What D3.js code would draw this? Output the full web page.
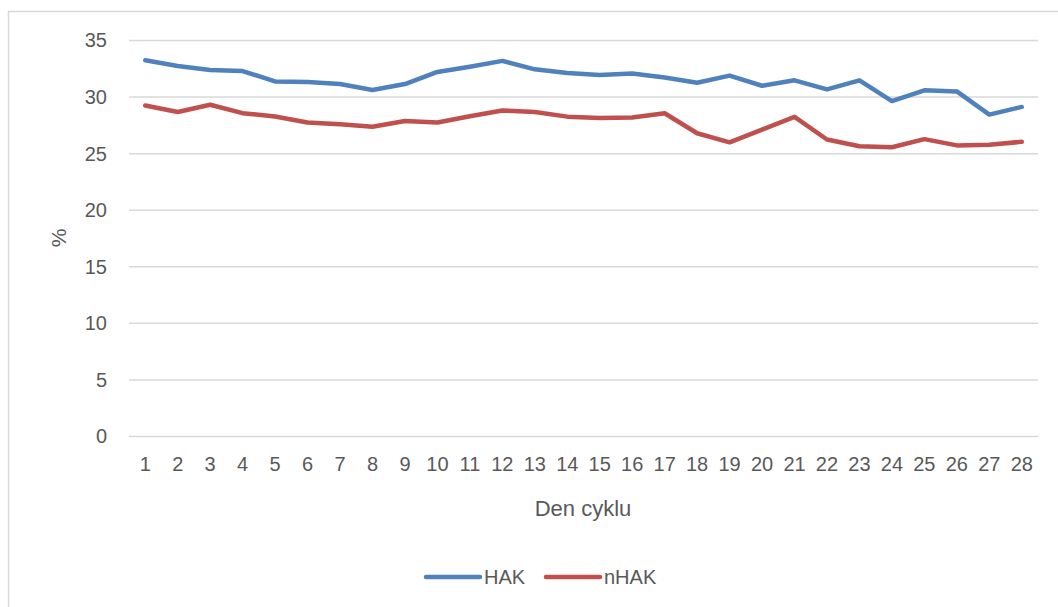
<!DOCTYPE html>
<html>
<head>
<meta charset="utf-8">
<script src="https://cdn.jsdelivr.net/npm/d3@7"></script>
<style>
  html, body { margin: 0; padding: 0; background: #fff; }
  svg { display: block; }
  text { font-family: "Liberation Sans", "DejaVu Sans", sans-serif; fill: #595959; }
</style>
</head>
<body>
<svg id="chart" width="1058" height="607"></svg>
<script>
// Day of the cycle
const days = d3.range(1, 29).map(String);
// Share (%) per day for each group
const hak  = [33.25, 32.75, 32.4, 32.3, 31.38, 31.33, 31.15, 30.62, 31.15, 32.22, 32.68, 33.2,
              32.45, 32.13, 31.95, 32.08, 31.73, 31.27, 31.9, 31.0, 31.48, 30.68, 31.48, 29.65,
              30.6, 30.5, 28.45, 29.13];
const nhak = [29.25, 28.68, 29.32, 28.58, 28.28, 27.75, 27.6, 27.38, 27.88, 27.75, 28.3, 28.82,
              28.68, 28.27, 28.15, 28.2, 28.57, 26.8, 26.0, 27.13, 28.25, 26.25, 25.65, 25.57,
              26.28, 25.73, 25.78, 26.05];
const yTicks = [0, 5, 10, 15, 20, 25, 30, 35];
const seriesNames = ["HAK", "nHAK"];
const seriesColors = ["#4F81BD", "#C0504D"];

const svg = d3.select("#chart");

// chart frame
svg.append("rect")
  .attr("x", 8.5).attr("y", 11.5)
  .attr("width", 1100).attr("height", 700)
  .attr("fill", "none").attr("stroke", "#D9D9D9").attr("stroke-width", 1.5);

const x = d3.scaleBand().domain(days).range([129, 1038]);
const y = d3.scaleLinear().domain([0, 35]).range([436.5, 40.5]);

// horizontal gridlines
svg.append("g").selectAll("line").data(yTicks).join("line")
  .attr("x1", 129).attr("x2", 1038)
  .attr("y1", d => y(d)).attr("y2", d => y(d))
  .attr("stroke", "#D9D9D9").attr("stroke-width", 1.5);

// y axis labels
const yAxis = d3.axisLeft(y).tickValues(yTicks).tickSize(0).tickPadding(0);
const gy = svg.append("g").attr("transform", "translate(107,0)").call(yAxis);
gy.select(".domain").remove();
gy.selectAll("text").style("font-size", "20px").attr("fill", "#595959")
  .style("font-family", "'Liberation Sans', sans-serif");

// x axis labels
const xAxis = d3.axisBottom(x).tickSize(0).tickPadding(0);
const gx = svg.append("g").attr("transform", "translate(0,457)").call(xAxis);
gx.select(".domain").remove();
gx.selectAll("text").style("font-size", "20px").attr("fill", "#595959")
  .style("font-family", "'Liberation Sans', sans-serif");

// axis titles
svg.append("text")
  .attr("transform", "translate(58,238) rotate(-90)")
  .attr("text-anchor", "middle").attr("dominant-baseline", "central")
  .style("font-size", "21px").text("%");
svg.append("text")
  .attr("x", 583).attr("y", 508)
  .attr("text-anchor", "middle").attr("dominant-baseline", "central")
  .style("font-size", "22px").text("Den cyklu");

// series lines
const line = d3.line()
  .x((d, i) => x(days[i]) + x.bandwidth() / 2)
  .y(d => y(d));

[hak, nhak].forEach((vals, k) => {
  svg.append("path")
    .datum(vals)
    .attr("d", line)
    .attr("fill", "none")
    .attr("stroke", seriesColors[k])
    .attr("stroke-width", 4.5)
    .attr("stroke-linejoin", "round")
    .attr("stroke-linecap", "round");
});

// legend
const legendItems = [
  { name: seriesNames[0], color: seriesColors[0], x: 426 },
  { name: seriesNames[1], color: seriesColors[1], x: 546 }
];
const lg = svg.append("g");
legendItems.forEach(it => {
  lg.append("line")
    .attr("x1", it.x).attr("x2", it.x + 54)
    .attr("y1", 577).attr("y2", 577)
    .attr("stroke", it.color).attr("stroke-width", 4.5)
    .attr("stroke-linecap", "round");
  lg.append("text")
    .attr("x", it.x + 58).attr("y", 577)
    .attr("dominant-baseline", "central")
    .style("font-size", "20px").text(it.name);
});
</script>
</body>
</html>
